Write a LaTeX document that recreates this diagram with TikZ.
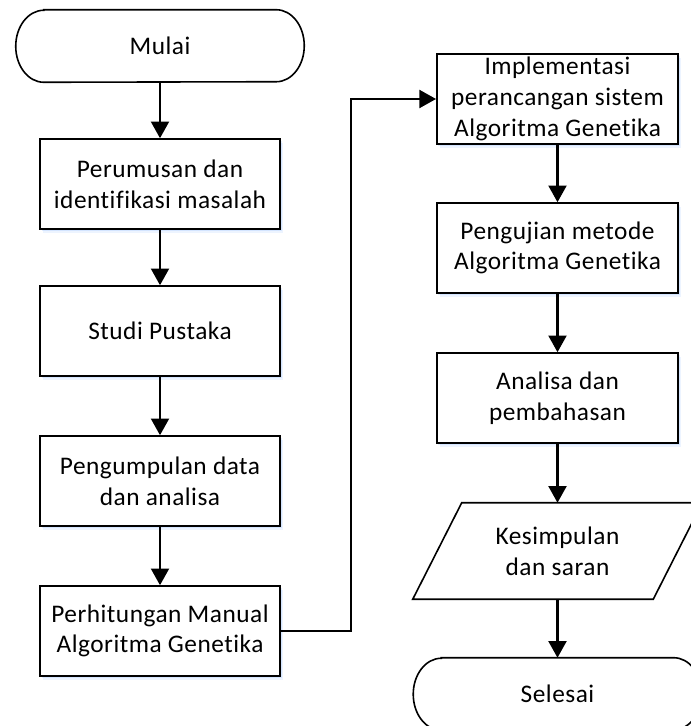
\documentclass[tikz,border=0pt]{standalone}
\usepackage{fontspec}
\setmainfont{Carlito}[LetterSpace=2, Ligatures={NoCommon}, RawFeature={-liga;-clig}]
\usetikzlibrary{arrows.meta,calc,shadows}
\tikzset{
  x=0.75pt, y=0.75pt,
  softshadow/.style={
    general shadow={shadow xshift=1.2pt, shadow yshift=-1.6pt, fill=blue!60!cyan, opacity=.10},
    general shadow={shadow xshift=2pt, shadow yshift=-3pt, fill=blue!60!cyan, opacity=.07}},
  procbox/.style={draw, line width=1.2pt, fill=white, softshadow, align=center,
    minimum width=180pt, minimum height=67.5pt, inner sep=0pt,
    font=\fontsize{19pt}{23pt}\selectfont},
  plain/.style={draw=none, align=center, inner sep=0pt,
    font=\fontsize{19pt}{23pt}\selectfont},
  shapeline/.style={line width=1.2pt, fill=white},
  flow/.style={line width=1.6pt, -{Triangle[length=12.5pt,width=13.5pt]}},
}
\newcommand{\termshape}[1]{%
  \fill[blue!60!cyan, opacity=.10, shift={(1.6,-2.1)}] ($(#1.north west)+(28,0)$) -- ($(#1.north east)+(-28,0)$)
    arc[start angle=90,end angle=-90,x radius=28,y radius=36] -- ($(#1.south west)+(28,0)$)
    arc[start angle=270,end angle=90,x radius=28,y radius=36] -- cycle;
  \draw[shapeline] ($(#1.north west)+(28,0)$) -- ($(#1.north east)+(-28,0)$)
    arc[start angle=90,end angle=-90,x radius=28,y radius=36] -- ($(#1.south west)+(28,0)$)
    arc[start angle=270,end angle=90,x radius=28,y radius=36] -- cycle;}
\begin{document}
\begin{tikzpicture}
\useasboundingbox (0,0) rectangle (691,726);
\clip (0,0) rectangle (691,726);
\fill[white] (0,0) rectangle (691,726);

% left column
\node[plain, minimum width=216pt, minimum height=54pt] (mulai) at (160,680) {};
\termshape{mulai}
\node[plain] (mulaitxt) at (mulai.center) {Mulai};

\node[procbox] (b1) at (160,542) {Perumusan dan\\identifikasi masalah};
\node[procbox] (b2) at (160,395) {Studi Pustaka};
\node[procbox] (b3) at (160,245) {Pengumpulan data\\dan analisa};
\node[procbox] (b4) at (160,95) {Perhitungan Manual\\Algoritma Genetika};

% right column
\node[procbox, minimum width=181pt] (b5) at (557.5,627) {Implementasi\\perancangan sistem\\Algoritma Genetika};
\node[procbox, minimum width=181pt] (b6) at (557.5,478) {Pengujian metode\\Algoritma Genetika};
\node[procbox, minimum width=181pt] (b7) at (557.5,328) {Analisa dan\\pembahasan};

\node[plain, minimum width=180pt, minimum height=72pt] (ks) at (557.5,175) {};
\fill[blue!60!cyan, opacity=.10, shift={(1.6,-2.1)}]
  ($(ks.south west)+(-24.5,0)$) -- ($(ks.south east)+(-24.5,0)$) --
  ($(ks.north east)+(24.5,0)$) -- ($(ks.north west)+(24.5,0)$) -- cycle;
\draw[shapeline]
  ($(ks.south west)+(-24.5,0)$) -- ($(ks.south east)+(-24.5,0)$) --
  ($(ks.north east)+(24.5,0)$) -- ($(ks.north west)+(24.5,0)$) -- cycle;
\node[plain] (kstxt) at (ks.center) {Kesimpulan\\dan saran};

\node[plain, minimum width=216pt, minimum height=54pt] (selesai) at (557.5,32) {};
\termshape{selesai}
\node[plain] (selesaitxt) at (selesai.center) {Selesai};

% connectors
\draw[flow] (mulai.south) -- (b1.north);
\draw[flow] (b1.south) -- (b2.north);
\draw[flow] (b2.south) -- (b3.north);
\draw[flow] (b3.south) -- (b4.north);
\coordinate (c1) at (351,95);
\coordinate (c2) at (351,627);
\draw[flow] (b4.east) -- (c1) -- (c2) -- (b5.west);
\draw[flow] (b5.south) -- (b6.north);
\draw[flow] (b6.south) -- (b7.north);
\draw[flow] (b7.south) -- (ks.north);
\draw[flow] (ks.south) -- (selesai.north);
\end{tikzpicture}
\end{document}
